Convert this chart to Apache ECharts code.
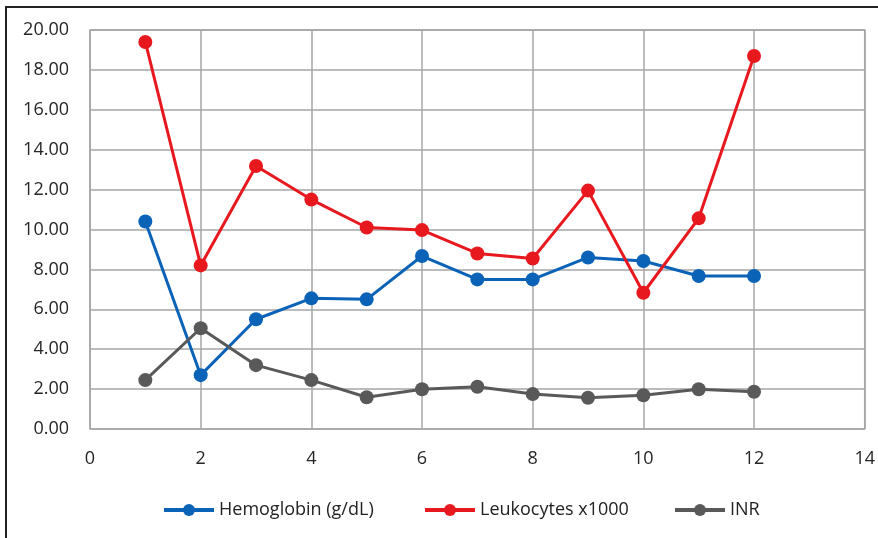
<!DOCTYPE html>
<html>
<head>
<meta charset="utf-8">
<script src="https://cdn.jsdelivr.net/npm/echarts@6/dist/echarts.min.js"></script>
<style>
html,body{margin:0;padding:0;background:#fff;}
#frame{position:absolute;left:5px;top:6px;width:900px;height:560px;border-left:2px solid #222;border-top:2px solid #222;}
#chart{position:absolute;left:0;top:0;width:878px;height:538px;}
</style>
</head>
<body>
<div id="frame"></div>
<div id="chart"></div>
<script>
const xValues = [1,2,3,4,5,6,7,8,9,10,11,12];
const hemoglobin = [10.4,2.7,5.5,6.55,6.5,8.67,7.5,7.5,8.6,8.42,7.67,7.67];
const leukocytes = [19.4,8.2,13.18,11.5,10.1,9.97,8.8,8.55,11.95,6.83,10.56,18.7];
const inr = [2.45,5.05,3.2,2.45,1.59,1.99,2.12,1.75,1.57,1.69,1.99,1.87];
const seriesNames = ['Hemoglobin (g/dL)','Leukocytes x1000','INR'];
const colors = ['#0B63B8','#E8191E','#595959'];

const pair = arr => xValues.map((x,i)=>[x,arr[i]]);
const font = '"Open Sans", Lato, sans-serif';
const legendLefts = [157,418,668];

const chart = echarts.init(document.getElementById('chart'), null, {renderer:'canvas'});
chart.setOption({
  animation:false,
  backgroundColor:'transparent',
  color:colors,
  grid:{left:90,top:30,right:12,bottom:109,containLabel:false,show:true,borderColor:'#A6A6A6',borderWidth:1.5},
  legend: seriesNames.map((n,i)=>({
    top:496,left:legendLefts[i],
    itemWidth:50,itemHeight:15,
    lineStyle:{width:4},
    textStyle:{fontFamily:font,fontSize:18,color:'#222'},
    data:[n]
  })),
  xAxis:{
    type:'value',min:0,max:14,interval:2,
    axisLine:{show:false},
    axisTick:{show:false},
    axisLabel:{fontFamily:font,fontSize:18,color:'#262626',margin:21},
    splitLine:{show:true,lineStyle:{color:'#A6A6A6',width:1.5}}
  },
  yAxis:{
    type:'value',min:0,max:20,interval:2,
    axisLine:{show:false},
    axisTick:{show:false},
    axisLabel:{fontFamily:font,fontSize:18,color:'#262626',margin:21,formatter:v=>v.toFixed(2)},
    splitLine:{show:true,lineStyle:{color:'#A6A6A6',width:1.5}}
  },
  series:[
    {name:seriesNames[0],type:'line',data:pair(hemoglobin),symbol:'circle',symbolSize:14,lineStyle:{width:3},itemStyle:{color:colors[0]}},
    {name:seriesNames[1],type:'line',data:pair(leukocytes),symbol:'circle',symbolSize:14,lineStyle:{width:3},itemStyle:{color:colors[1]}},
    {name:seriesNames[2],type:'line',data:pair(inr),symbol:'circle',symbolSize:14,lineStyle:{width:3},itemStyle:{color:colors[2]}}
  ]
});
</script>
</body>
</html>
